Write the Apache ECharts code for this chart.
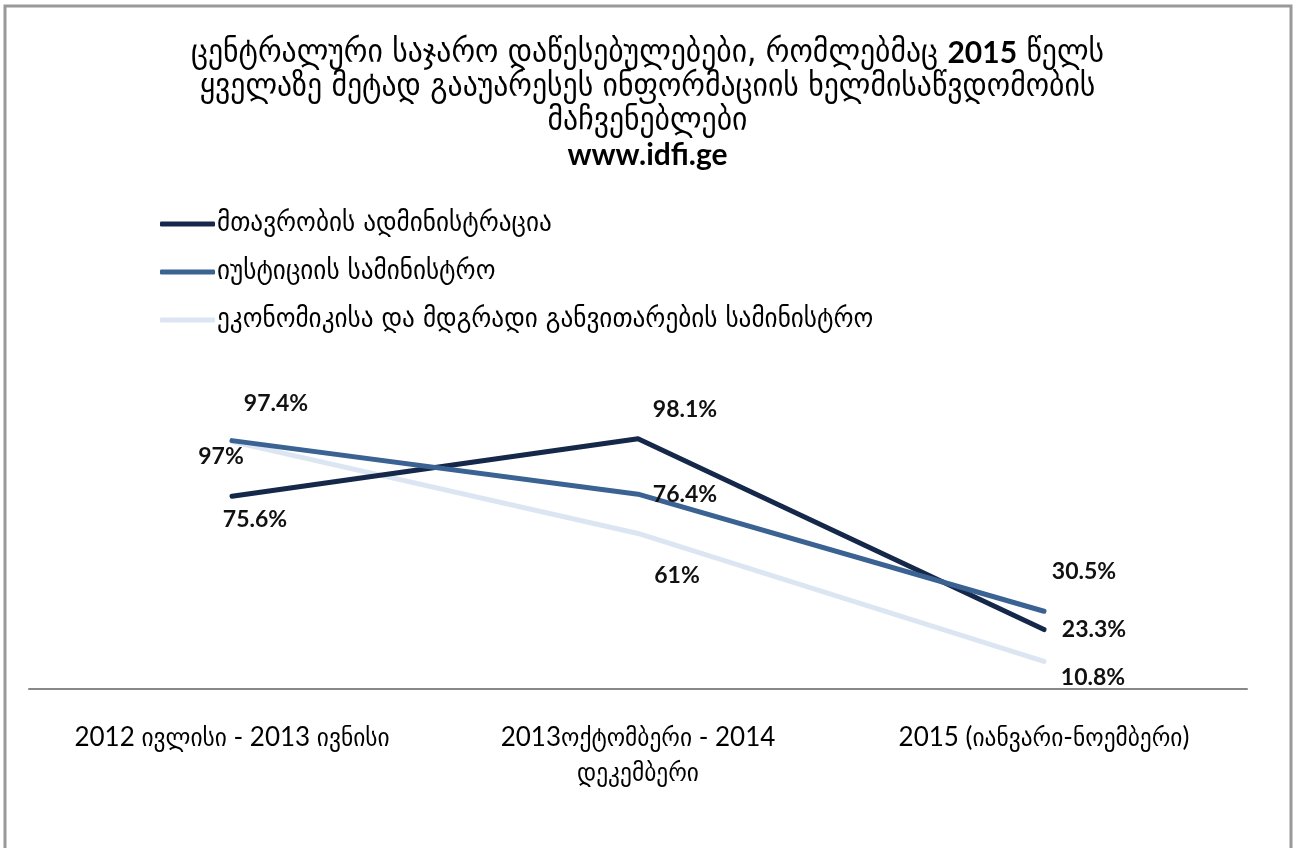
<!DOCTYPE html>
<html>
<head>
<meta charset="utf-8">
<script src="https://cdn.jsdelivr.net/npm/echarts@6/dist/echarts.min.js"></script>
<style>
  html, body { margin: 0; padding: 0; background: #fff; }
  #chart { width: 1295px; height: 848px; }
</style>
</head>
<body>
<div id="chart"></div>
<script>
const categories = ['2012 ივლისი - 2013 ივნისი', '2013ოქტომბერი - 2014\nდეკემბერი', '2015 (იანვარი-ნოემბერი)'];
const seriesNames = ['მთავრობის ადმინისტრაცია', 'იუსტიციის სამინისტრო', 'ეკონომიკისა და მდგრადი განვითარების სამინისტრო'];
const adminValues = [75.6, 98.1, 23.3];
const justiceValues = [97.4, 76.4, 30.5];
const economyValues = [97, 61, 10.8];

const GEO = "'DejaVu Sans Condensed', 'DejaVu Sans'";
const NUM = "Lato, 'DejaVu Sans Condensed', 'DejaVu Sans'";
const colors = ['#15284a', '#3a6292', '#dce6f2'];

// label offsets per point (dx, dy from the point)
const offsets = [
  [[23, 23], [47, -29], [50, 0]],
  [[44, -37], [47, 0], [40, -40]],
  [[-11, 15], [39, 42], [49, 16]]
];

const valueSets = [adminValues, justiceValues, economyValues];

const makeSeries = (i) => ({
  name: seriesNames[i],
  type: 'line',
  z: [2, 3, 1][i],
  data: valueSets[i].map((v, j) => ({
    value: v,
    label: { offset: offsets[i][j] }
  })),
  showSymbol: true,
  symbol: 'circle',
  symbolSize: 0.1,
  color: colors[i],
  lineStyle: { width: 5, cap: 'round', join: 'round' },
  label: {
    show: true,
    position: 'inside',
    formatter: (p) => p.value + '%',
    fontFamily: NUM,
    fontWeight: 'bold',
    fontSize: 23,
    color: '#111'
  },
  emphasis: { disabled: true },
  animation: false
});

const chart = echarts.init(document.getElementById('chart'));
chart.setOption({
  backgroundColor: '#fff',
  animation: false,
  title: {
    left: 'center',
    top: 31,
    text: '{g|ცენტრალური საჯარო დაწესებულებები, რომლებმაც }{b|2015}{g| წელს}\n{g|ყველაზე მეტად გააუარესეს ინფორმაციის ხელმისაწვდომობის}\n{g|მაჩვენებლები}\n{b|www.idfi.ge}',
    textStyle: {
      rich: {
        g: { fontFamily: GEO, fontSize: 33, fontWeight: 'normal', lineHeight: 34, color: '#000' },
        b: { fontFamily: NUM, fontSize: 30, fontWeight: 'bold', lineHeight: 34, color: '#000' }
      }
    }
  },
  legend: {
    orient: 'vertical',
    left: 155,
    top: 205,
    itemWidth: 55,
    itemHeight: 5,
    itemGap: 20,
    icon: 'roundRect',
    data: seriesNames,
    textStyle: { fontFamily: GEO, fontSize: 28, color: '#000', padding: [0, 0, 0, -3] }
  },
  grid: { left: 29, right: 48, top: 434, bottom: 159 },
  xAxis: {
    type: 'category',
    data: categories,
    boundaryGap: true,
    axisLine: { lineStyle: { color: '#888', width: 2 } },
    axisTick: { show: false },
    axisLabel: {
      margin: 31,
      fontFamily: NUM,
      fontSize: 26,
      lineHeight: 35,
      color: '#000',
      interval: 0
    }
  },
  yAxis: {
    type: 'value',
    min: 0,
    max: 100,
    show: false,
    splitLine: { show: false }
  },
  graphic: [{
    type: 'rect',
    shape: { x: 5, y: 6, width: 1286, height: 900 },
    style: { fill: 'none', stroke: '#999', lineWidth: 3 },
    silent: true
  }],
  series: [0, 1, 2].map(makeSeries)
});
</script>
</body>
</html>
